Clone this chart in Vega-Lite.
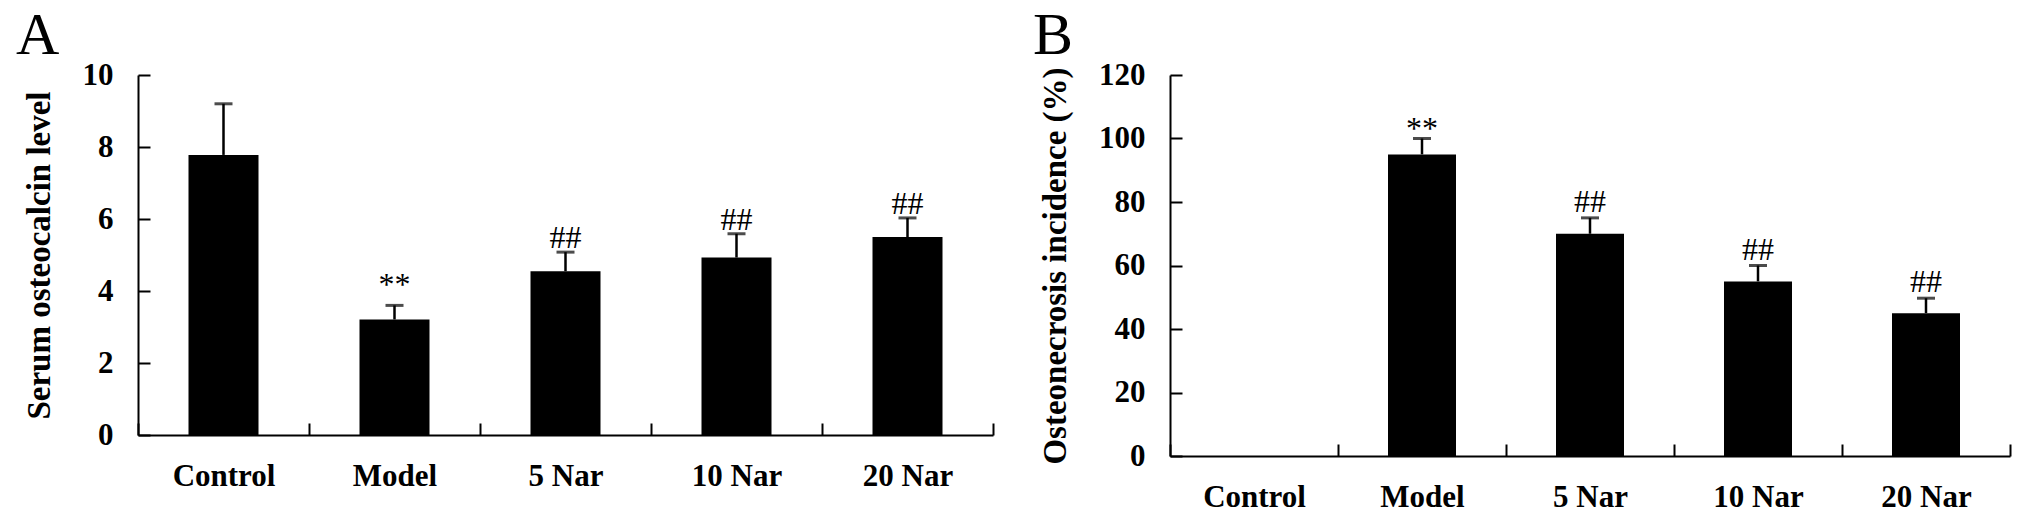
{
  "$schema": "https://vega.github.io/schema/vega-lite/v6.json",
  "background": "white",
  "padding": {"left": 16, "top": 5, "right": 5, "bottom": 5},
  "bounds": "flush",
  "spacing": 177,
  "config": {
    "font": "Liberation Serif",
    "view": {"stroke": null},
    "axis": {
      "domainColor": "black", "tickColor": "black", "labelColor": "black", "titleColor": "black",
      "labelFont": "Liberation Serif", "titleFont": "Liberation Serif",
      "labelFontWeight": "bold", "titleFontWeight": "bold",
      "labelFontSize": 31, "titleFontSize": 33, "grid": false,
      "domainWidth": 2, "tickWidth": 2
    },
    "title": {"font": "Liberation Serif", "fontSize": 60, "fontWeight": "normal", "anchor": "start", "frame": "group", "color": "black", "baseline": "alphabetic"}
  },
  "datasets": {
    "osteocalcin": [
      {"group": "Control", "mean": 7.78, "upper": 9.2, "sig": ""},
      {"group": "Model", "mean": 3.21, "upper": 3.6, "sig": "**"},
      {"group": "5 Nar", "mean": 4.55, "upper": 5.08, "sig": "##"},
      {"group": "10 Nar", "mean": 4.93, "upper": 5.59, "sig": "##"},
      {"group": "20 Nar", "mean": 5.5, "upper": 6.03, "sig": "##"}
    ],
    "incidence": [
      {"group": "Control", "mean": 0, "upper": null, "sig": ""},
      {"group": "Model", "mean": 95, "upper": 100, "sig": "**"},
      {"group": "5 Nar", "mean": 70, "upper": 75, "sig": "##"},
      {"group": "10 Nar", "mean": 55, "upper": 60, "sig": "##"},
      {"group": "20 Nar", "mean": 45, "upper": 49.7, "sig": "##"}
    ]
  },
  "hconcat": [
    {
      "width": 855, "height": 360,
      "title": {"text": "A", "dx": -122, "offset": -7.5},
      "data": {"name": "osteocalcin"},
      "encoding": {
        "x": {"field": "group", "type": "nominal", "sort": null, "title": null,
          "scale": {"paddingInner": 0, "paddingOuter": 0},
          "axis": {"labelAngle": 0, "tickBand": "extent", "tickSize": -12, "labelPadding": 38, "labelBaseline": "top"}}
      },
      "layer": [
        {"mark": {"type": "bar", "color": "black", "width": 70},
         "encoding": {"y": {"field": "mean", "type": "quantitative", "title": "Serum osteocalcin level",
           "scale": {"domain": [0, 10], "nice": false},
           "axis": {"values": [0, 2, 4, 6, 8, 10], "tickSize": -12, "labelPadding": 37, "titlePadding": 26}}}},
        {"mark": {"type": "rule", "color": "black", "strokeWidth": 2.5},
         "encoding": {"y": {"field": "mean", "type": "quantitative"}, "y2": {"field": "upper"}}},
        {"mark": {"type": "tick", "color": "black", "thickness": 3, "size": 18},
         "encoding": {"y": {"field": "upper", "type": "quantitative"}}},
        {"transform": [{"filter": "datum.sig == '**'"}],
         "mark": {"type": "text", "font": "Liberation Serif", "fontSize": 32, "baseline": "alphabetic", "dy": -10, "color": "black"},
         "encoding": {"y": {"field": "upper", "type": "quantitative"}, "text": {"field": "sig"}}},
        {"transform": [{"filter": "datum.sig == '##'"}],
         "mark": {"type": "text", "font": "Liberation Serif", "fontSize": 32, "baseline": "alphabetic", "dy": -4, "color": "black"},
         "encoding": {"y": {"field": "upper", "type": "quantitative"}, "text": {"field": "sig"}}}
      ]
    },
    {
      "width": 840, "height": 381,
      "title": {"text": "B", "dx": -137, "offset": -7.5},
      "data": {"name": "incidence"},
      "encoding": {
        "x": {"field": "group", "type": "nominal", "sort": null, "title": null,
          "scale": {"paddingInner": 0, "paddingOuter": 0},
          "axis": {"labelAngle": 0, "tickBand": "extent", "tickSize": -12, "labelPadding": 38, "labelBaseline": "top"}}
      },
      "layer": [
        {"mark": {"type": "bar", "color": "black", "width": 68},
         "encoding": {"y": {"field": "mean", "type": "quantitative", "title": "Osteonecrosis  incidence (%)",
           "scale": {"domain": [0, 120], "nice": false},
           "axis": {"values": [0, 20, 40, 60, 80, 100, 120], "tickSize": -12, "labelPadding": 37, "titlePadding": 26}}}},
        {"mark": {"type": "rule", "color": "black", "strokeWidth": 2.5},
         "encoding": {"y": {"field": "mean", "type": "quantitative"}, "y2": {"field": "upper"}}},
        {"mark": {"type": "tick", "color": "black", "thickness": 3, "size": 18},
         "encoding": {"y": {"field": "upper", "type": "quantitative"}}},
        {"transform": [{"filter": "datum.sig == '**'"}],
         "mark": {"type": "text", "font": "Liberation Serif", "fontSize": 32, "baseline": "alphabetic", "dy": 0, "color": "black"},
         "encoding": {"y": {"field": "upper", "type": "quantitative"}, "text": {"field": "sig"}}},
        {"transform": [{"filter": "datum.sig == '##'"}],
         "mark": {"type": "text", "font": "Liberation Serif", "fontSize": 32, "baseline": "alphabetic", "dy": -6, "color": "black"},
         "encoding": {"y": {"field": "upper", "type": "quantitative"}, "text": {"field": "sig"}}}
      ]
    }
  ]
}
